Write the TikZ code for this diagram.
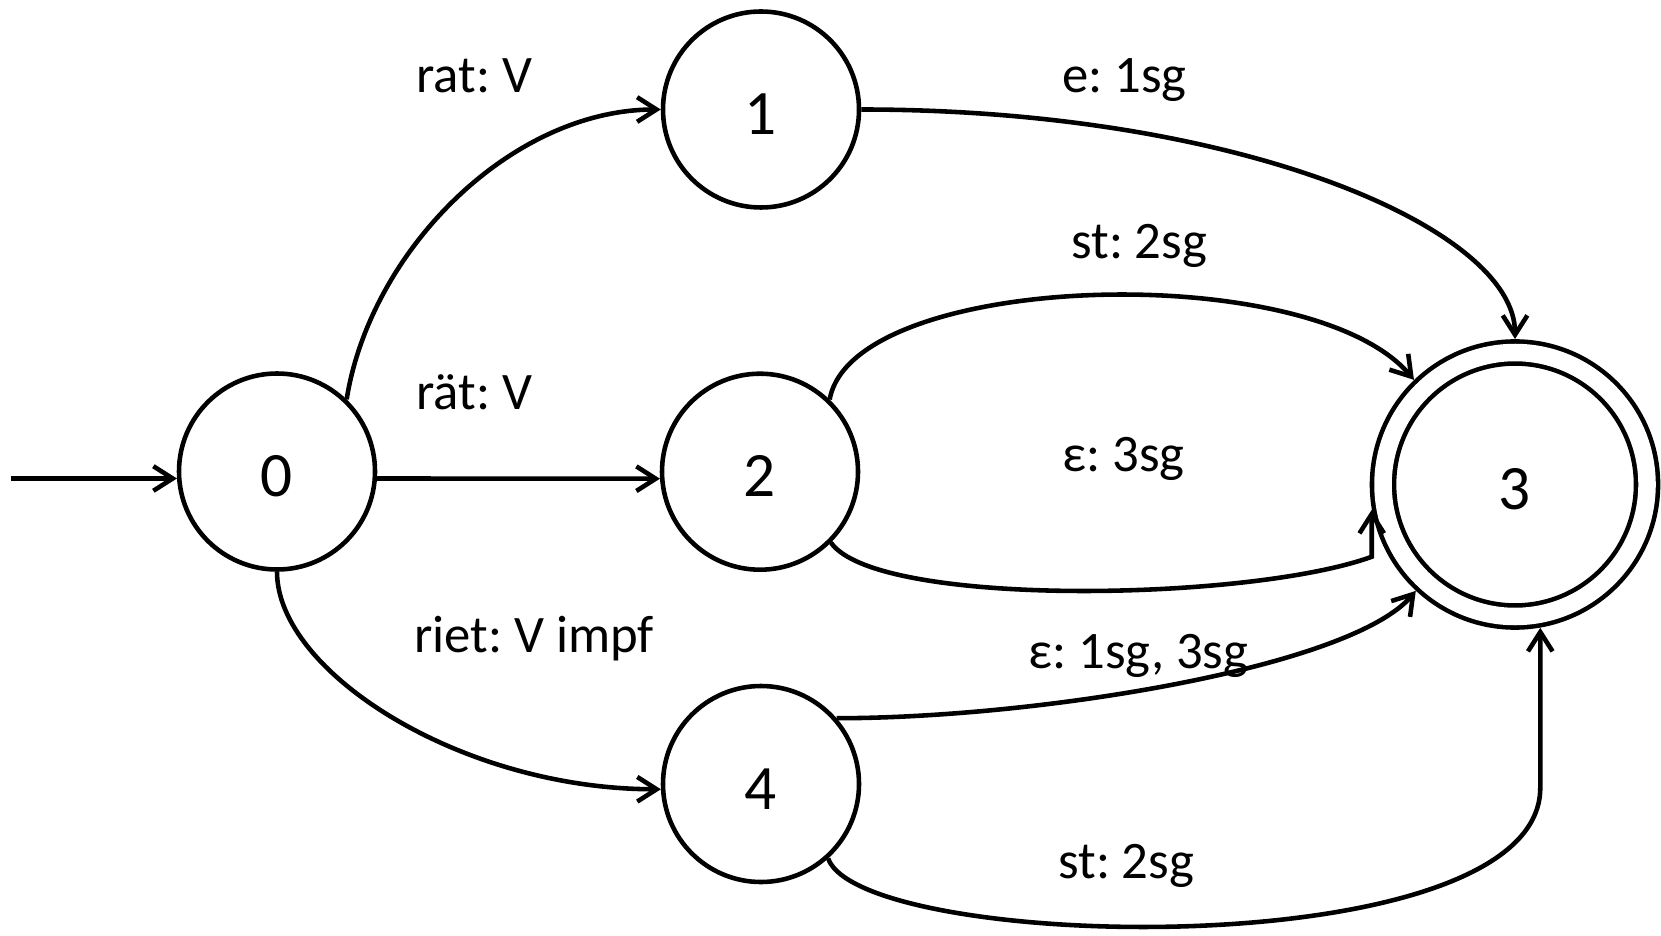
\documentclass[tikz,border=0pt]{standalone}
\usepackage{fontspec}
\setmainfont{Carlito}
\usetikzlibrary{arrows.meta}
\frenchspacing

\begin{document}
\begin{tikzpicture}[
                line width=1.3pt,
                state/.style={circle, draw, inner sep=0pt, minimum size=1.96cm,
                    text height=0.5cm, text depth=0pt,
                    font=\fontsize{18}{20}\selectfont},
                final/.style={state, double, double distance=1.75mm,
                    minimum size=2.64cm, outer sep=1.35mm},
                lbl/.style={anchor=base west, inner sep=0pt,
                    font=\fontsize{15}{18}\selectfont},
                arc/.style={-{Straight Barb[length=5.5pt,width=7pt]}}
            ]
                \useasboundingbox (0,0) rectangle (16.61,9.35);
                \node[state] (s0) at (2.77,4.635) {0};
                \node[state] (s1) at (7.61,8.255) {1};
                \node[state] (s2) at (7.60,4.633) {2};
                \node[state] (s4) at (7.61,1.51) {4};
                \node[final] (s3) at (15.15,4.505) {3};
                \coordinate (init) at ([xshift=-1.655cm]s0.184);

                \node[lbl] (l01) at (4.14,8.42) {rat: V};
                \node[lbl] (l02) at (4.14,5.25) {rät: V};
                \node[lbl] (l04) at (4.12,2.83) {riet: V impf};
                \node[lbl] (l13) at (10.60,8.42) {e: 1sg};
                \node[lbl] (l23a) at (10.69,6.76) {st: 2sg};
                \node[lbl] (l23b) at (10.60,4.64) {ε: 3sg};
                \node[lbl] (l43a) at (10.26,2.67) {ε: 1sg, 3sg};
                \node[lbl] (l43b) at (10.56,0.57) {st: 2sg};

                \draw[arc] (init) -- (s0.184);
                \draw[arc] (s0.46) .. controls +(81:1.5) and +(180:1.5) .. (s1.west);
                \draw[arc] (s0.-4) -- (s2.184);
                \draw[arc] (s0.south) .. controls +(0,-1.0) and +(-2.0,0) .. (s4.183);
                \draw[arc] (s1.east) .. controls +(3.8,0) and +(0,1.1) .. (s3.north);
                \draw[arc] (s2.46) .. controls +(80:1.3) and +(130:1.6) .. (s3.134);
                \draw[arc] (s2.-45) .. controls +(-55:0.8) and +(-160:1.3)
                    .. ([yshift=-4.7mm]s3.-170) -- (s3.-170);
                \draw[arc] (s4.41) .. controls +(2.0,0) and +(-130:1.0) .. (s3.-133);
                \draw[arc] (s4.-48) .. controls +(-70:1.0) and +(0,-1.8)
                    .. ([yshift=-1.6cm]s3.-80) -- (s3.-80);
            \end{tikzpicture}
\end{document}
